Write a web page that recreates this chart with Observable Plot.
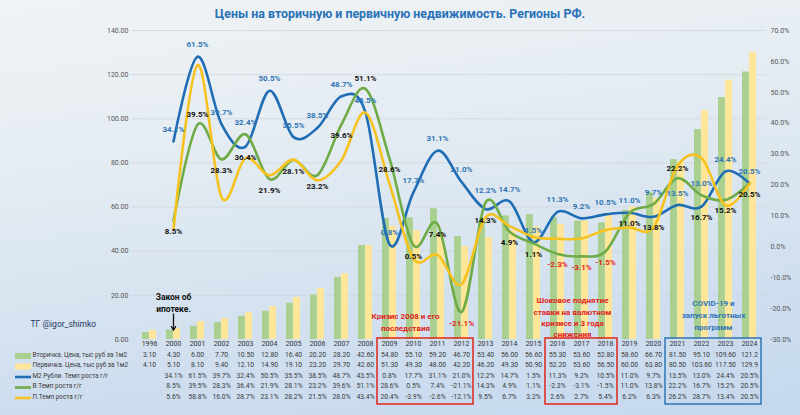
<!DOCTYPE html>
<html>
<head>
<meta charset="utf-8">
<script src="https://cdn.jsdelivr.net/npm/d3@7"></script>
<script src="https://cdn.jsdelivr.net/npm/@observablehq/plot@0.6"></script>
<style>
  body { margin: 0; }
  #wrap {
    width: 800px; height: 415px; overflow: hidden;
    background: linear-gradient(172deg, #f0f3f5 0%, #e4ecf2 35%, #d2e0ef 70%, #c4d8ee 100%);
    font-family: Roboto, "Open Sans", "Noto Sans", sans-serif;
  }
  #title {
    height: 24px; line-height: 28px; text-align: center;
    color: #2a72b8; font-weight: bold; font-size: 12.4px;
  }
  svg { display: block; }
</style>
</head>
<body>
<div id="wrap">
  <div id="title">Цены на вторичную и первичную недвижимость. Регионы РФ.</div>
</div>
<script>
// ---- data ----
const years = ["1996","2000","2001","2002","2003","2004","2005","2006","2007","2008","2009","2010","2011","2012","2013","2014","2015","2016","2017","2018","2019","2020","2021","2022","2023","2024"];
const secPrice = [3.10,4.30,6.00,7.70,10.50,12.80,16.40,20.20,28.20,42.60,54.80,55.10,59.20,46.70,53.40,56.00,56.60,55.30,53.60,52.80,58.60,66.70,81.50,95.10,109.60,121.20];
const priPrice = [4.10,5.10,8.10,9.40,12.10,14.90,19.10,23.20,29.70,42.60,51.30,49.30,48.00,42.20,46.20,49.30,50.90,52.20,53.60,56.50,60.00,63.80,80.50,103.60,117.50,129.90];
const m2Growth = [null,34.1,61.5,39.7,32.4,50.5,35.5,38.5,48.7,43.5,0.8,17.7,31.1,21.0,12.2,14.7,1.5,11.3,9.2,10.5,11.0,9.7,13.5,13.0,24.4,20.5];
const secGrowth = [null,8.5,39.5,28.3,36.4,21.9,28.1,23.2,39.6,51.1,28.6,0.5,7.4,-21.1,14.3,4.9,1.1,-2.3,-3.1,-1.5,11.0,13.8,22.2,16.7,15.2,20.5];
const priGrowth = [null,5.6,58.8,16.0,28.7,23.1,28.2,21.5,28.0,43.4,20.4,-3.9,-2.6,-12.1,9.5,6.7,3.2,2.6,2.7,5.4,6.2,6.3,26.2,28.7,13.4,20.5];
const leftTicks = [0,20,40,60,80,100,120,140];
const rightTicks = [-30,-20,-10,0,10,20,30,40,50,60,70];
const rowLabels = ["Вторичка. Цена, тыс руб за 1м2","Первичка. Цена, тыс руб за 1м2","М2 Рубли. Темп роста г/г","В.Темп роста г/г","П.Темп роста г/г"];
const periods = [["2009","2012","#e0251b"],["2016","2018","#e0251b"],["2021","2024","#2e75b6"]];
// label placement config: years where the secondary-growth label sits above its point
const secLabelAbove = new Set(["2001","2008","2021"]);

// ---- colours ----
const C = {barSec:"#a9d08e", barPri:"#ffe699", m2:"#1f6db4", sec:"#6fab46", pri:"#f6c21f", lblBlue:"#2e75b6", red:"#e0251b"};

const rows = years.map((y, i) => ({year: y, i, sec: secPrice[i], pri: priPrice[i], m2: m2Growth[i], sg: secGrowth[i], pg: priGrowth[i]}));
// right axis (-30%..70%) maps onto left axis (0..140)
const pctY = p => (p + 30) * 1.4;
const fmtPrice = (v, i) => i === years.length - 1 ? v.toFixed(1) : v.toFixed(2);
const fmtPct = v => v == null ? "" : v.toFixed(1) + "%";
const close = d => !secLabelAbove.has(d.year) && Math.abs(d.m2 - d.sg) < 6;

const W = 800, H = 391, mT = 6, mB = 76, mL = 131, mR = 34;
const rowDy = [17, 27.5, 38, 48.5, 59];
const font = "Roboto, 'Open Sans', sans-serif";

const tableRows = [
  d => fmtPrice(d.sec, d.i),
  d => fmtPrice(d.pri, d.i),
  d => fmtPct(d.m2),
  d => fmtPct(d.sg),
  d => fmtPct(d.pg)
];
const growthRows = rows.filter(d => d.m2 != null);

const chart = Plot.plot({
  width: W, height: H,
  marginTop: mT, marginBottom: mB, marginLeft: mL, marginRight: mR,
  style: {background: "transparent", fontFamily: font, fontSize: "7px", color: "#555"},
  x: {type: "band", domain: years, paddingInner: 0.42, paddingOuter: 0.21, label: null},
  y: {domain: [0, 140], label: null},
  color: {type: "identity"},
  marks: [
    Plot.ruleY(leftTicks.slice(1), {stroke: "#cfd6dd", strokeWidth: 0.8}),
    Plot.axisY({ticks: leftTicks, tickFormat: d => d.toFixed(2), tickSize: 0, tickPadding: 3, label: null, fontSize: 7}),
    Plot.axisY({anchor: "right", ticks: rightTicks.map(pctY), tickFormat: d => (d / 1.4 - 30).toFixed(1) + "%", tickSize: 0, tickPadding: 4, label: null, fontSize: 7}),
    Plot.axisX({tickSize: 0, tickPadding: 2, label: null, fontSize: 7, fill: "#333"}),
    Plot.barY(rows, {x: "year", y: "sec", fill: C.barSec, insetRight: 7.1}),
    Plot.barY(rows, {x: "year", y: "pri", fill: C.barPri, insetLeft: 7.1}),
    Plot.line(growthRows, {x: "year", y: d => pctY(d.m2), stroke: C.m2, strokeWidth: 2.6, curve: "cardinal", tension: 0}),
    Plot.line(growthRows, {x: "year", y: d => pctY(d.sg), stroke: C.sec, strokeWidth: 2.6, curve: "cardinal", tension: 0}),
    Plot.line(growthRows, {x: "year", y: d => pctY(d.pg), stroke: C.pri, strokeWidth: 2.6, curve: "cardinal", tension: 0}),
    // data labels
    Plot.text(growthRows, {x: "year", y: d => pctY(close(d) ? Math.max(d.m2, d.sg) : d.m2), text: d => fmtPct(d.m2), dy: -12, fill: C.lblBlue, fontWeight: "bold", fontSize: 8}),
    Plot.text(growthRows.filter(d => !secLabelAbove.has(d.year)), {x: "year", y: d => pctY(close(d) ? Math.min(d.m2, d.sg) : d.sg), text: d => fmtPct(d.sg), dy: 11, fill: d => d.sg < 0 ? C.red : "#111", fontWeight: "bold", fontSize: 8}),
    Plot.text(growthRows.filter(d => secLabelAbove.has(d.year)), {x: "year", y: d => pctY(d.sg), text: d => fmtPct(d.sg), dy: -10, fill: "#111", fontWeight: "bold", fontSize: 8}),
    // annotations
    Plot.text(["Закон об\nипотеке."], {x: () => "2000", y: () => 17, lineHeight: 1.4, fontWeight: "bold", fontSize: 8.5, fill: "#111"}),
    Plot.arrow([0], {x1: () => "2000", x2: () => "2000", y1: () => 11.6, y2: () => 4.2, stroke: "#111", strokeWidth: 1.3, headLength: 5}),
    Plot.text(["Кризис 2008 и его\nпоследствия"], {x: () => "2010", y: () => 8.2, dx: -8, lineHeight: 1.5, fontWeight: "bold", fontSize: 8, fill: C.red}),
    Plot.text(["Шоковое поднятие\nставки на валютном\nкризисе и 3 года\nснижения"], {x: () => "2017", y: () => 10.3, dx: -9, lineHeight: 1.42, fontWeight: "bold", fontSize: 8, fill: C.red}),
    Plot.text(["COVID-19 и\nзапуск льготных\nпрограмм"], {x: () => "2022", y: () => 11.4, dx: 12, lineHeight: 1.5, fontWeight: "bold", fontSize: 8, fill: C.lblBlue}),
    Plot.text(["ТГ @igor_shimko"], {frameAnchor: "bottom-left", dx: 30 - mL, dy: -13, textAnchor: "start", fontSize: 8.5, fill: "#1f3a66"}),
    // data table
    ...tableRows.map((f, k) => Plot.text(rows, {x: "year", text: f, frameAnchor: "bottom", dy: rowDy[k], fontSize: 6.8, fill: "#3a3a3a"})),
    ...rowLabels.map((t, k) => Plot.text([t], {frameAnchor: "bottom-left", dx: 32 - mL, dy: rowDy[k], textAnchor: "start", fontSize: 6.4, fill: "#3a3a3a"}))
  ]
});

document.getElementById("wrap").appendChild(chart);

// legend swatches and period boxes in the table, positioned from Plot's x scale
const svg = d3.select(chart);
const xs = chart.scale("x");
const frameBottom = H - mB;
const swatches = [
  {type: "bar", color: C.barSec}, {type: "bar", color: C.barPri},
  {type: "line", color: C.m2}, {type: "line", color: C.sec}, {type: "line", color: C.pri}
];
swatches.forEach((s, k) => {
  const cy = frameBottom + rowDy[k];
  if (s.type === "bar") {
    svg.append("rect").attr("x", 15).attr("y", cy - 3).attr("width", 16).attr("height", 6).attr("fill", s.color);
  } else {
    svg.append("line").attr("x1", 15).attr("x2", 31).attr("y1", cy).attr("y2", cy).attr("stroke", s.color).attr("stroke-width", 2.6);
  }
});
const gap = (xs.step - xs.bandwidth) / 2;
periods.forEach(([a, b, col]) => {
  const x1 = xs.apply(a) - gap, x2 = xs.apply(b) + xs.bandwidth + gap;
  svg.append("rect").attr("x", x1).attr("y", frameBottom - 1).attr("width", x2 - x1).attr("height", 66)
    .attr("fill", "none").attr("stroke", col).attr("stroke-width", 1.5);
});
</script>
</body>
</html>
